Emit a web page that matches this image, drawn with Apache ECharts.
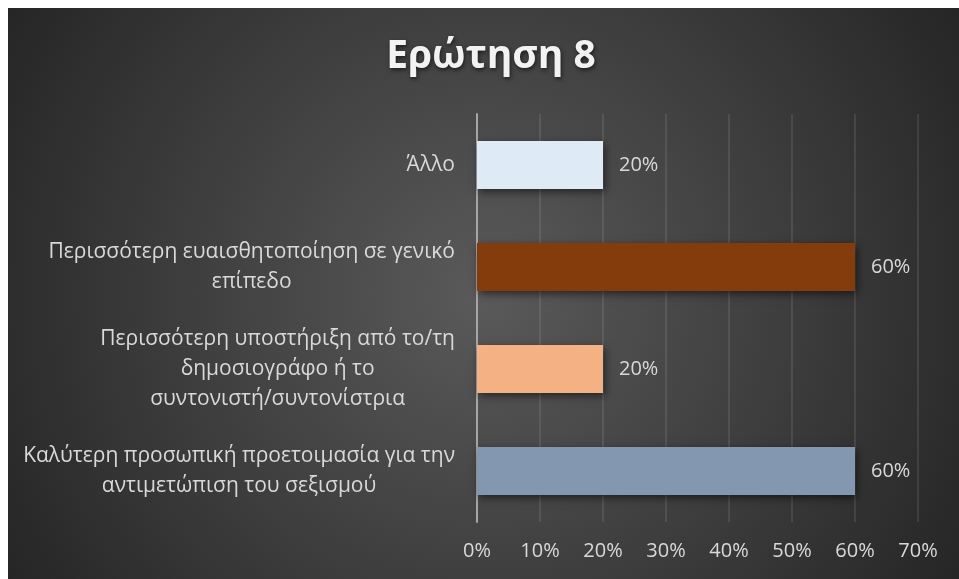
<!DOCTYPE html>
<html>
<head>
<meta charset="utf-8">
<script src="https://cdn.jsdelivr.net/npm/echarts@6/dist/echarts.min.js"></script>
<style>
  html, body { margin: 0; padding: 0; background: #ffffff; }
  #chart { position: absolute; left: 8px; top: 8px; width: 951px; height: 571px; }
</style>
</head>
<body>
<div id="chart"></div>
<script>
const titleText = 'Ερώτηση 8';
const categories = [
  'Άλλο',
  'Περισσότερη ευαισθητοποίηση σε γενικό\nεπίπεδο',
  'Περισσότερη υποστήριξη από το/τη\nδημοσιογράφο ή το\nσυντονιστή/συντονίστρια',
  'Καλύτερη προσωπική προετοιμασία για την\nαντιμετώπιση του σεξισμού'
];
const values = [20, 60, 20, 60];
const barColors = ['#DEEBF7', '#843C0C', '#F4B183', '#8497B0'];
const axisMax = 70;
const axisStep = 10;

const chart = echarts.init(document.getElementById('chart'));
const font = '"Open Sans", "Noto Sans", sans-serif';
chart.setOption({
  backgroundColor: {
    type: 'radial', x: 0.5, y: 0.5, r: 1.0,
    colorStops: [
      { offset: 0, color: '#5a5a5a' },
      { offset: 1, color: '#242424' }
    ]
  },
  title: {
    text: titleText,
    left: 478,
    textAlign: 'center',
    top: 24,
    textStyle: {
      color: '#f2f2f2',
      fontFamily: font,
      fontSize: 39,
      fontWeight: 'bold',
      textShadowColor: 'rgba(0,0,0,0.6)',
      textShadowBlur: 4,
      textShadowOffsetX: 1,
      textShadowOffsetY: 2
    }
  },
  grid: { left: 469, right: 41, top: 106, bottom: 57, containLabel: false },
  xAxis: {
    type: 'value',
    min: 0, max: axisMax, interval: axisStep,
    axisLine: { show: false },
    axisTick: { show: false },
    axisLabel: {
      color: '#d9d9d9', fontFamily: font, fontSize: 20, margin: 19,
      formatter: v => v + '%'
    },
    splitLine: { lineStyle: { color: 'rgba(255,255,255,0.13)', width: 1.5 } }
  },
  yAxis: {
    type: 'category',
    inverse: true,
    data: categories,
    axisLine: { show: true, lineStyle: { color: '#a6a6a6', width: 2 } },
    axisTick: { show: false },
    axisLabel: {
      color: '#d9d9d9', fontFamily: font, fontSize: 21, margin: 22,
      formatter: v => v.split('\n').map(s => '{c|' + s + '}').join('\n'),
      rich: {
        c: { align: 'center', color: '#d9d9d9', fontFamily: font, fontSize: 21, lineHeight: 30 }
      }
    }
  },
  series: [{
    type: 'bar',
    data: values.map((v, i) => ({ value: v, itemStyle: { color: barColors[i] } })),
    barCategoryGap: '53%',
    itemStyle: {
      shadowBlur: 8,
      shadowColor: 'rgba(0,0,0,0.55)',
      shadowOffsetX: 2,
      shadowOffsetY: 3
    },
    label: {
      show: true,
      position: 'right',
      distance: 16,
      color: '#d9d9d9',
      fontFamily: font,
      fontSize: 20,
      formatter: p => p.value + '%'
    }
  }]
});
</script>
</body>
</html>
